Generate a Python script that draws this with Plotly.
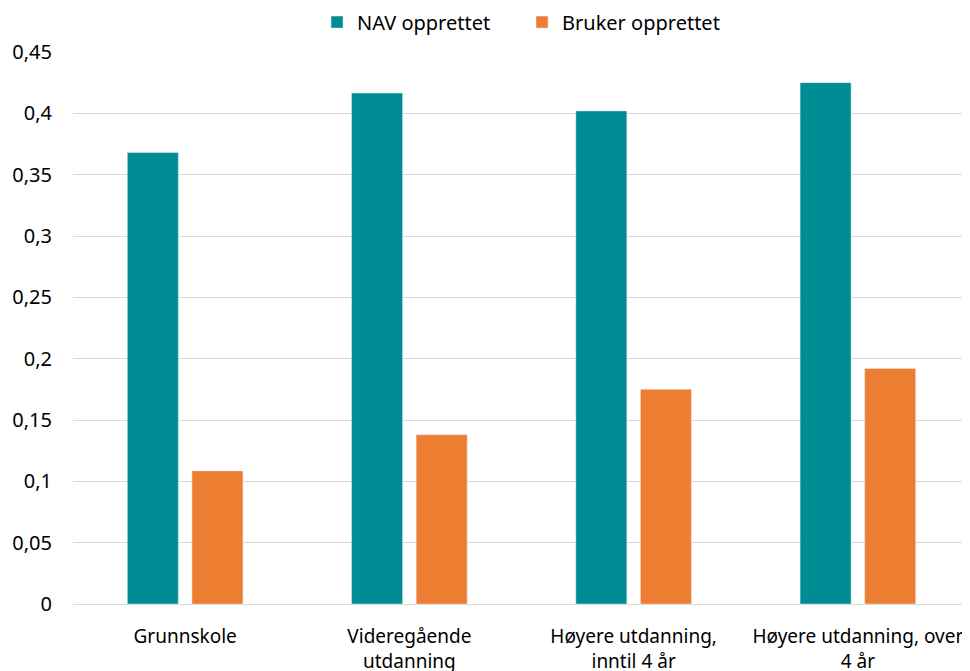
import plotly.graph_objects as go

categories = ["Grunnskole", "Videregående<br>utdanning", "Høyere utdanning,<br>inntil 4 år", "Høyere utdanning, over<br>4 år"]
nav_values = [0.368, 0.4165, 0.402, 0.425]
bruker_values = [0.1085, 0.138, 0.175, 0.192]
tick_vals = [0, 0.05, 0.1, 0.15, 0.2, 0.25, 0.3, 0.35, 0.4, 0.45]
tick_text = ["0", "0,05", "0,1", "0,15", "0,2", "0,25", "0,3", "0,35", "0,4", "0,45"]

font_family = "Noto Sans, Open Sans, sans-serif"

fig = go.Figure()
fig.add_trace(go.Bar(name="NAV opprettet", x=categories, y=nav_values, marker_color="#008C95"))
fig.add_trace(go.Bar(name="Bruker opprettet", x=categories, y=bruker_values, marker_color="#ED7D31"))

fig.update_layout(
    width=970, height=671,
    margin=dict(l=65, r=8, t=44, b=75, autoexpand=False),
    barmode="group", bargap=0.424, bargroupgap=0.21,
    plot_bgcolor="white", paper_bgcolor="white",
    font=dict(family=font_family, size=20, color="#000000"),
    legend=dict(orientation="h", xref="container", yref="container",
                x=0.3186, xanchor="left", y=0.979, yanchor="middle",
                font=dict(size=20), itemwidth=30, traceorder="normal",
                entrywidth=160, entrywidthmode="pixels"),
    showlegend=True,
)
fig.update_yaxes(range=[0, 0.45], tickvals=tick_vals, ticktext=tick_text,
                 showgrid=True, gridcolor="#D9D9D9", gridwidth=1,
                 zeroline=True, zerolinecolor="#D9D9D9", zerolinewidth=1,
                 ticks="", ticklabelstandoff=20, tickfont=dict(size=20), automargin=False)
fig.update_xaxes(showgrid=False, showline=False, ticks="", tickfont=dict(size=19),
                 ticklabelstandoff=19, automargin=False)

fig.write_html("out.html")
